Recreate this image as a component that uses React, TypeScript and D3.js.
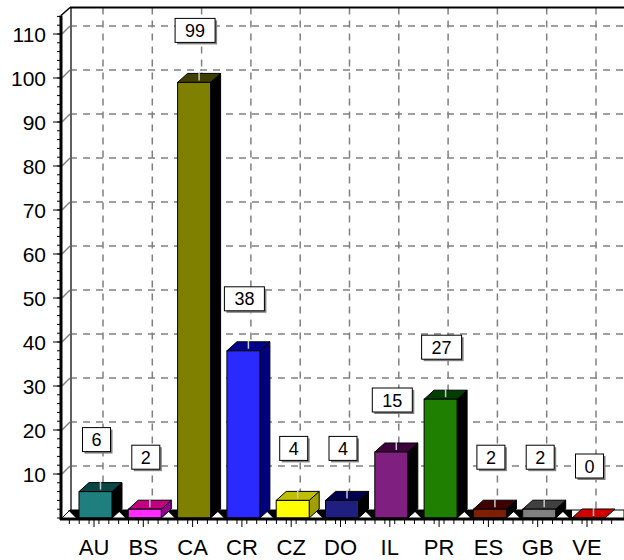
import React from "react";
import * as d3 from "d3";

const categories = ["AU", "BS", "CA", "CR", "CZ", "DO", "IL", "PR", "ES", "GB", "VE"];
const values = [6, 2, 99, 38, 4, 4, 15, 27, 2, 2, 0];
const yTicks = [10, 20, 30, 40, 50, 60, 70, 80, 90, 100, 110];

// face colours: front, top, side
const palette: [string, string, string][] = [
  ["#1f7f7f", "#0a4646", "#000000"],
  ["#ff2bff", "#c0007f", "#8f008f"],
  ["#808000", "#3f3f00", "#000000"],
  ["#2a2aff", "#00008b", "#000080"],
  ["#ffff00", "#c0c000", "#9f9f00"],
  ["#1f1f7f", "#00004f", "#000000"],
  ["#7f1f7f", "#3f003f", "#000000"],
  ["#1f7f00", "#003f00", "#000000"],
  ["#7f1f00", "#3f0000", "#000000"],
  ["#808080", "#404040", "#000000"],
  ["#d00000", "#d00000", "#000000"],
];

const W = 624;
const H = 560;
const FONT = "'Liberation Sans', Arial, sans-serif";

export default function App() {
  const x = d3.scaleBand<string>().domain(categories).range([69.35, 611.65]).padding(0);
  const y = d3.scaleLinear().domain([0, 110]).range([518, 34]);
  const bw = x.bandwidth();
  const gdx = 9, gdy = -8; // back wall offset
  const bdx = 10, bdy = -9; // bar depth
  const axisX = 61;
  const base = y(0);
  const topY = y(114.2);
  const barW = 33;

  const minorY = d3.range(0, 115, 2);
  const minorX: number[] = [];
  for (let i = 0; i <= categories.length * 5; i++) minorX.push(69.35 + (i * bw) / 5);

  const pts = (arr: [number, number][]) => arr.map((p) => p.join(",")).join(" ");

  return (
    <svg width={W} height={H} style={{ position: "absolute", left: 0, top: 0, background: "#fff" }}>
      <rect x={0} y={0} width={W} height={H} fill="#fff" />
      {/* back wall grid */}
      <g stroke="#808080" strokeWidth={1.5} strokeDasharray="7,6" fill="none">
        {yTicks.map((t) => (
          <g key={"h" + t}>
            <line x1={axisX + gdx} x2={W} y1={y(t) + gdy} y2={y(t) + gdy} />
            <line x1={axisX + 1} x2={axisX + gdx} y1={y(t)} y2={y(t) + gdy} strokeDasharray="none" />
          </g>
        ))}
        {categories.map((c) => (
          <line
            key={"v" + c}
            x1={(x(c) as number) + bw / 2 + gdx}
            x2={(x(c) as number) + bw / 2 + gdx}
            y1={topY + gdy}
            y2={base + gdy}
          />
        ))}
      </g>
      {/* back wall left edge and top */}
      <line x1={axisX + gdx + 1} x2={axisX + gdx + 1} y1={topY + gdy} y2={base + gdy} stroke="#606060" strokeWidth={2} />
      <line x1={axisX + gdx} x2={W} y1={topY + gdy} y2={topY + gdy} stroke="#000" strokeWidth={2} />
      <line x1={axisX} x2={axisX + gdx} y1={topY} y2={topY + gdy} stroke="#000" strokeWidth={1.5} />
      {/* floor */}
      <polygon
        points={pts([
          [axisX, base + 1],
          [W, base + 1],
          [W, base + gdy],
          [axisX + gdx, base + gdy],
        ])}
        fill="#fff"
        stroke="#000"
        strokeWidth={1}
      />
      {/* bar footprints (shadows on floor) */}
      {categories.map((c) => {
        const x0 = (x(c) as number) + bw / 2 + 1.5 - barW / 2;
        return (
          <polygon
            key={"s" + c}
            points={pts([
              [x0 - 11, base + gdy],
              [x0, base + gdy],
              [x0, base],
              [x0 - 3, base],
            ])}
            fill="#000"
          />
        );
      })}
      {/* bars */}
      {categories.map((c, i) => {
        const v = values[i];
        const [front, top, side] = palette[i];
        const x0 = (x(c) as number) + bw / 2 + 1.5 - barW / 2;
        const x1 = x0 + barW;
        const yt = y(v);
        const cx = (x0 + x1) / 2 + bdx / 2;
        return (
          <g key={"b" + c} stroke="#000" strokeWidth={1}>
            {v > 0 && (
              <polygon
                points={pts([
                  [x1, yt],
                  [x1 + bdx, yt + bdy],
                  [x1 + bdx, base + bdy],
                  [x1, base],
                ])}
                fill={side}
              />
            )}
            <polygon
              points={pts([
                [x0, yt],
                [x0 + bdx, yt + bdy],
                [x1 + bdx, yt + bdy],
                [x1, yt],
              ])}
              fill={top}
            />
            {v > 0 && <rect x={x0} y={yt} width={barW} height={base - yt} fill={front} />}
            <line x1={cx} x2={cx} y1={yt + bdy - 1} y2={yt - 2} stroke="#c8c8c8" strokeWidth={1.5} />
          </g>
        );
      })}
      {/* value boxes */}
      {categories.map((c, i) => {
        const v = values[i];
        const label = String(v);
        const w = label.length > 1 ? 40 : 28;
        const h = 24;
        const cx = (x(c) as number) + bw / 2 + 2.5;
        const bottom = y(v) - 40;
        const top = bottom - h;
        return (
          <g key={"l" + c}>
            <rect x={cx - w / 2 + 2} y={top + 2} width={w} height={h} fill="#808080" />
            <rect x={cx - w / 2} y={top} width={w} height={h} fill="#fff" stroke="#000" strokeWidth={1} />
            <text x={cx} y={top + h / 2 + 6.5} textAnchor="middle" fontFamily={FONT} fontSize={18} fill="#000">
              {label}
            </text>
          </g>
        );
      })}
      {/* y axis */}
      <line x1={axisX} x2={axisX} y1={topY} y2={base + 2} stroke="#000" strokeWidth={3} />
      {minorY.map((t) => (
        <line key={"my" + t} x1={axisX - 4} x2={axisX} y1={y(t)} y2={y(t)} stroke="#000" strokeWidth={1} />
      ))}
      {yTicks.map((t) => (
        <g key={"yt" + t}>
          <line x1={axisX - 8} x2={axisX} y1={y(t)} y2={y(t)} stroke="#000" strokeWidth={1} />
          <text x={46} y={y(t) + 8} textAnchor="end" fontFamily={FONT} fontSize={21} fill="#000">
            {t}
          </text>
        </g>
      ))}
      {/* x axis */}
      <line x1={axisX - 1} x2={W} y1={base + 1} y2={base + 1} stroke="#000" strokeWidth={3} />
      {minorX.map((mx, i) => (
        <line key={"mx" + i} x1={mx} x2={mx} y1={base + 2} y2={base + 6} stroke="#000" strokeWidth={1} />
      ))}
      {categories.map((c) => {
        const cx = (x(c) as number) + bw / 2;
        return (
          <g key={"xt" + c}>
            <line x1={cx} x2={cx} y1={base + 2} y2={base + 9} stroke="#000" strokeWidth={1} />
            <text x={cx} y={555} textAnchor="middle" fontFamily={FONT} fontSize={22} fill="#000">
              {c}
            </text>
          </g>
        );
      })}
    </svg>
  );
}
